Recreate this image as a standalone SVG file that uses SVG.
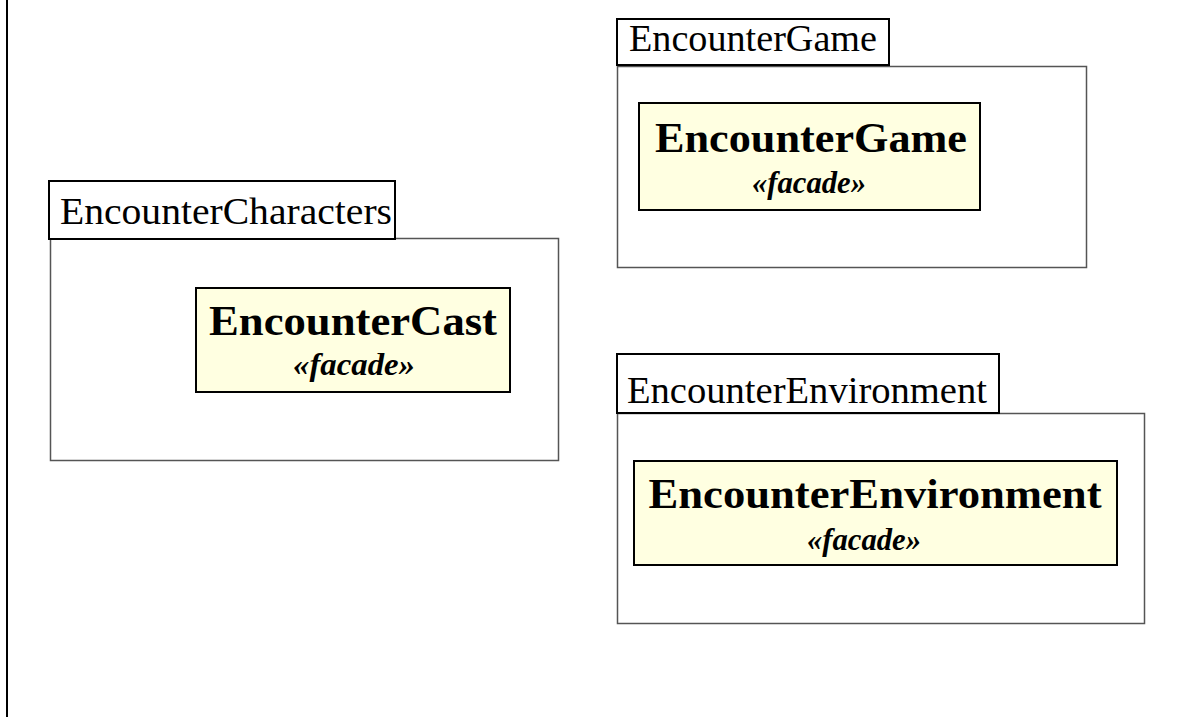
<svg xmlns="http://www.w3.org/2000/svg" width="1184" height="717" viewBox="0 0 1184 717">
  <style>
    .pkg-body { fill: #ffffff; stroke: #555555; stroke-width: 1.5; }
    .pkg-tab { fill: #ffffff; stroke: #000000; stroke-width: 2; }
    .pkg-name { font-family: "Liberation Serif", "Times New Roman", serif; font-size: 37px; fill: #000000; }
    .cls { fill: #ffffe1; stroke: #000000; stroke-width: 2; }
    .cls-name { font-family: "Liberation Serif", "Times New Roman", serif; font-size: 43px; font-weight: bold; fill: #000000; text-anchor: middle; }
    .stereo { font-family: "Liberation Serif", "Times New Roman", serif; font-size: 31px; font-weight: bold; font-style: italic; fill: #000000; text-anchor: middle; }
  </style>

  <!-- frame edge on the left -->
  <line x1="7" y1="0" x2="7" y2="717" stroke="#000000" stroke-width="2"/>

  <!-- package: EncounterCharacters -->
  <g id="pkg-encounter-characters">
    <rect class="pkg-body" x="50.5" y="238.5" width="508" height="222"/>
    <rect class="pkg-tab" x="49" y="181" width="346" height="58"/>
    <text class="pkg-name" x="60" y="224" textLength="332" lengthAdjust="spacingAndGlyphs">EncounterCharacters</text>
  </g>

  <!-- class: EncounterCast -->
  <g id="cls-encounter-cast">
    <rect class="cls" x="196" y="288" width="314" height="104"/>
    <text class="cls-name" x="353" y="335" textLength="288" lengthAdjust="spacingAndGlyphs">EncounterCast</text>
    <text class="stereo" x="354" y="375" textLength="122" lengthAdjust="spacingAndGlyphs">«facade»</text>
  </g>

  <!-- package: EncounterGame -->
  <g id="pkg-encounter-game">
    <rect class="pkg-body" x="617.5" y="66.5" width="469" height="201"/>
    <rect class="pkg-tab" x="617" y="19" width="272" height="46"/>
    <text class="pkg-name" x="629" y="51" textLength="248" lengthAdjust="spacingAndGlyphs">EncounterGame</text>
  </g>

  <!-- class: EncounterGame -->
  <g id="cls-encounter-game">
    <rect class="cls" x="639" y="103" width="341" height="107"/>
    <text class="cls-name" x="811" y="152" textLength="312" lengthAdjust="spacingAndGlyphs">EncounterGame</text>
    <text class="stereo" x="809" y="193" textLength="114" lengthAdjust="spacingAndGlyphs">«facade»</text>
  </g>

  <!-- package: EncounterEnvironment -->
  <g id="pkg-encounter-environment">
    <rect class="pkg-body" x="617.5" y="413.5" width="527" height="210"/>
    <rect class="pkg-tab" x="617" y="354" width="382" height="59"/>
    <text class="pkg-name" x="627" y="403" textLength="360" lengthAdjust="spacingAndGlyphs">EncounterEnvironment</text>
  </g>

  <!-- class: EncounterEnvironment -->
  <g id="cls-encounter-environment">
    <rect class="cls" x="634" y="461" width="483" height="104"/>
    <text class="cls-name" x="875" y="508" textLength="453" lengthAdjust="spacingAndGlyphs">EncounterEnvironment</text>
    <text class="stereo" x="864" y="550" textLength="114" lengthAdjust="spacingAndGlyphs">«facade»</text>
  </g>

  <!-- no dependencies are drawn between the packages -->
  <g id="connectors"/>
</svg>
